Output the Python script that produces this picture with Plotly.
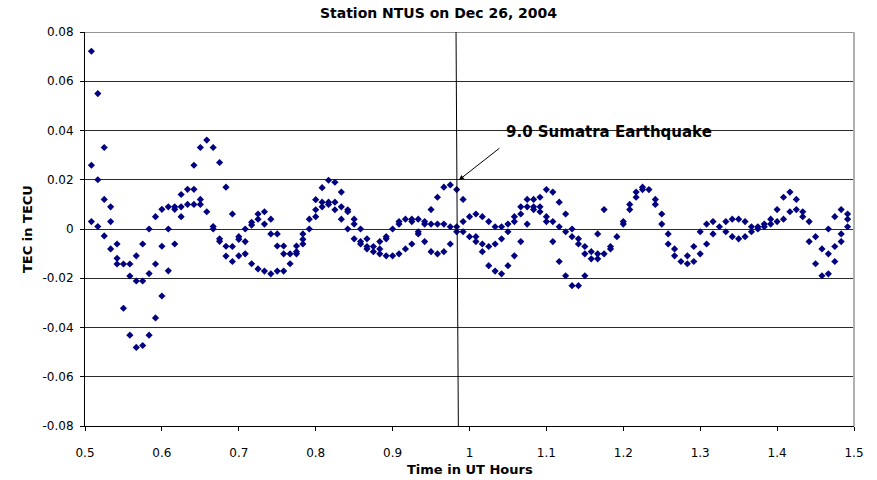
import plotly.graph_objects as go

# GPS epochs (minutes after 00:00 UT, 30 s sampling) and the TEC
# perturbations of all tracked satellites observed at each epoch.
epoch_minutes = [
    30.5, 31.0, 31.5, 32.0, 32.5, 33.0, 33.5, 34.0, 34.5, 35.0,
    35.5, 36.0, 36.5, 37.0, 37.5, 38.0, 38.5, 39.0, 39.5, 40.0,
    40.5, 41.0, 41.5, 42.0, 42.5, 43.0, 43.5, 44.0, 44.5, 45.0,
    45.5, 46.0, 46.5, 47.0, 47.5, 48.0, 48.5, 49.0, 49.5, 50.0,
    50.5, 51.0, 51.5, 52.0, 52.5, 53.0, 53.5, 54.0, 54.5, 55.0,
    55.5, 56.0, 56.5, 57.0, 57.5, 58.0, 58.5, 59.0, 59.5, 60.0,
    60.5, 61.0, 61.5, 62.0, 62.5, 63.0, 63.5, 64.0, 64.5, 65.0,
    65.5, 66.0, 66.5, 67.0, 67.5, 68.0, 68.5, 69.0, 69.5, 70.0,
    70.5, 71.0, 71.5, 72.0, 72.5, 73.0, 73.5, 74.0, 74.5, 75.0,
    75.5, 76.0, 76.5, 77.0, 77.5, 78.0, 78.5, 79.0, 79.5, 80.0,
    80.5, 81.0, 81.5, 82.0, 82.5, 83.0, 83.5, 84.0, 84.5, 85.0,
    85.5, 86.0, 86.5, 87.0, 87.5, 88.0, 88.5, 89.0, 89.5,
]

tec_by_epoch = [
    [0.0722, 0.0259, 0.0030], [0.0550, 0.0200, 0.0010], [0.0331, 0.0120, -0.0028],
    [0.0090, 0.0030, -0.0081], [-0.0061, -0.0119, -0.0142], [-0.0142, -0.0322],
    [-0.0142, -0.0191, -0.0431], [-0.0109, -0.0211, -0.0481], [-0.0061, -0.0211, -0.0473],
    [0.0000, -0.0181, -0.0431], [0.0050, -0.0142, -0.0361], [0.0080, -0.0070, -0.0272],
    [0.0090, 0.0000, -0.0170], [0.0090, 0.0080, -0.0061], [0.0140, 0.0090, 0.0050],
    [0.0161, 0.0100], [0.0259, 0.0161, 0.0100], [0.0331, 0.0120, 0.0100],
    [0.0361, 0.0070], [0.0331, 0.0010, 0.0000], [0.0270, -0.0040, -0.0050],
    [0.0170, -0.0070, -0.0110], [0.0061, -0.0071, -0.0132], [-0.0031, -0.0042, -0.0109],
    [0.0000, -0.0051, -0.0101], [0.0027, 0.0016, -0.0141], [0.0061, 0.0040, -0.0162],
    [0.0070, 0.0020, -0.0171], [0.0040, -0.0020, -0.0182], [-0.0020, -0.0069, -0.0171],
    [-0.0069, -0.0101, -0.0171], [-0.0101, -0.0141], [-0.0069, -0.0092, -0.0101],
    [-0.0020, -0.0042, -0.0061], [0.0040, 0.0000], [0.0119, 0.0078, 0.0050],
    [0.0168, 0.0109, 0.0090], [0.0198, 0.0109, 0.0100], [0.0190, 0.0109, 0.0078],
    [0.0150, 0.0090, 0.0040], [0.0078, 0.0070, 0.0000], [0.0040, 0.0020, -0.0040],
    [0.0000, -0.0051, -0.0061], [-0.0040, -0.0071, -0.0081], [-0.0071, -0.0092],
    [-0.0051, -0.0081, -0.0101], [-0.0031, -0.0040, -0.0109], [0.0000, -0.0109],
    [0.0030, 0.0020, -0.0101], [0.0040, -0.0081], [0.0040, 0.0030, -0.0061],
    [0.0040, -0.0011, -0.0020], [0.0030, 0.0020, -0.0051], [0.0079, 0.0020, -0.0092],
    [0.0129, 0.0020, -0.0101], [0.0170, 0.0020, -0.0092], [0.0179, 0.0009, -0.0061],
    [0.0160, 0.0009, -0.0011], [0.0120, 0.0030, -0.0011], [0.0050, -0.0031],
    [0.0061, -0.0031, -0.0051], [0.0050, -0.0061, -0.0092], [0.0030, -0.0071, -0.0149],
    [0.0009, -0.0061, -0.0171], [0.0009, -0.0040, -0.0182], [0.0020, -0.0011, -0.0149],
    [0.0050, 0.0030, -0.0109], [0.0090, 0.0061, -0.0051], [0.0120, 0.0090, 0.0020],
    [0.0120, 0.0090, 0.0079], [0.0129, 0.0090, 0.0070], [0.0160, 0.0050, 0.0030],
    [0.0150, 0.0030, -0.0051], [0.0109, 0.0009, -0.0132], [0.0061, -0.0011, -0.0190],
    [0.0000, -0.0031, -0.0230], [-0.0040, -0.0061, -0.0230], [-0.0071, -0.0101, -0.0190],
    [-0.0092, -0.0121], [-0.0020, -0.0101, -0.0121], [0.0079, -0.0101],
    [-0.0071, -0.0081], [-0.0031], [0.0030, 0.0020],
    [0.0100, 0.0079], [0.0150, 0.0129], [0.0170, 0.0160],
    [0.0160], [0.0120, 0.0100], [0.0061, 0.0020],
    [-0.0020, -0.0061], [-0.0081, -0.0109], [-0.0132],
    [-0.0109, -0.0141], [-0.0071, -0.0132], [-0.0011, -0.0101],
    [0.0020, -0.0061], [0.0030, -0.0020], [0.0009],
    [0.0030, -0.0011], [0.0040, -0.0031], [0.0040, -0.0040],
    [0.0030, -0.0031], [0.0009, -0.0011], [0.0009, 0.0000],
    [0.0020, 0.0009], [0.0040, 0.0020], [0.0079, 0.0030],
    [0.0129, 0.0040], [0.0150, 0.0070], [0.0120, 0.0079],
    [0.0070, 0.0050], [0.0030, -0.0051], [-0.0031, -0.0141],
    [-0.0081, -0.0190], [0.0000, -0.0101, -0.0182], [0.0050, -0.0071, -0.0132],
    [0.0079, -0.0020, -0.0051], [0.0061, 0.0040, 0.0009],
]

# Axis ticks and labels
x_ticks = [0.5, 0.6, 0.7, 0.8, 0.9, 1.0, 1.1, 1.2, 1.3, 1.4, 1.5]
x_labels = ["0.5", "0.6", "0.7", "0.8", "0.9", "1", "1.1", "1.2", "1.3", "1.4", "1.5"]
y_ticks = [-0.08, -0.06, -0.04, -0.02, 0.0, 0.02, 0.04, 0.06, 0.08]
y_labels = ["-0.08", "-0.06", "-0.04", "-0.02", "0", "0.02", "0.04", "0.06", "0.08"]

# Earthquake onset marker and its arrow target
quake_line = [(0.9825, 0.08), (0.9855, -0.08)]
quake_point = (0.9863, 0.0199)
quake_label_pos = (1.0449, 0.0393)

# Flatten the per-epoch lists into scatter points (time in hours)
times, tec = [], []
for minute, values in zip(epoch_minutes, tec_by_epoch):
    for v in values:
        times.append(minute / 60.0)
        tec.append(v)

FONT = "DejaVu Sans"

fig = go.Figure()
fig.add_trace(go.Scatter(
    x=times, y=tec, mode="markers",
    marker=dict(symbol="diamond", size=5.5, color="#000080", line=dict(width=0)),
    showlegend=False, hoverinfo="x+y",
))

fig.update_layout(
    width=877, height=480,
    margin=dict(l=85, r=23, t=32, b=54),
    paper_bgcolor="white", plot_bgcolor="white",
    font=dict(family=FONT, size=12, color="black"),
    title=dict(
        text="Station NTUS on Dec 26, 2004",
        font=dict(family=FONT, size=14, color="black", weight="bold"),
        x=0.5, xref="container", xanchor="center",
        y=1 - 13 / 480, yref="container", yanchor="middle",
    ),
    xaxis=dict(
        range=[0.5, 1.5], tickvals=x_ticks, ticktext=x_labels,
        showgrid=False, zeroline=False,
        showline=True, linecolor="black", linewidth=1,
        ticks="outside", ticklen=4, tickcolor="black",
        tickfont=dict(family=FONT, size=12),
        ticklabelstandoff=12,
    ),
    yaxis=dict(
        range=[-0.08, 0.08], tickvals=y_ticks, ticktext=y_labels,
        showgrid=True, gridcolor="#2a2a2a", gridwidth=1,
        zeroline=False,
        showline=True, linecolor="black", linewidth=1,
        ticks="outside", ticklen=4, tickcolor="black",
        tickfont=dict(family=FONT, size=12),
        ticklabelstandoff=4,
    ),
)

# Axis titles
fig.add_annotation(
    text="Time in UT Hours", xref="paper", yref="paper",
    x=0.5, y=-(469 - 426) / 394, xanchor="center", yanchor="middle",
    showarrow=False, font=dict(family=FONT, size=13, weight="bold"),
)
fig.add_annotation(
    text="TEC in TECU", xref="paper", yref="paper",
    x=-(85 - 27) / 769, y=0.5, xanchor="center", yanchor="middle",
    textangle=-90, showarrow=False, font=dict(family=FONT, size=13, weight="bold"),
)

# Top gridline and right border of the plot area
fig.add_shape(type="line", xref="paper", yref="y", x0=0, x1=1, y0=0.08, y1=0.08,
              line=dict(color="#2a2a2a", width=1))
fig.add_shape(type="line", xref="paper", yref="paper", x0=1, x1=1, y0=0, y1=1,
              line=dict(color="#b0b0b0", width=2))

# Earthquake onset line
fig.add_shape(type="line", xref="x", yref="y",
              x0=quake_line[0][0], y0=quake_line[0][1],
              x1=quake_line[1][0], y1=quake_line[1][1],
              line=dict(color="black", width=1))

# Label and arrow
fig.add_annotation(
    text="9.0 Sumatra Earthquake", x=quake_label_pos[0], y=quake_label_pos[1],
    xref="x", yref="y", xanchor="left", yanchor="middle", showarrow=False,
    font=dict(family=FONT, size=15, weight="bold", color="black"),
)
fig.add_annotation(
    text="", x=quake_point[0], y=quake_point[1], xref="x", yref="y",
    showarrow=True, ax=42, ay=-33, arrowhead=2, arrowsize=1, arrowwidth=1,
    arrowcolor="black",
)

fig.write_html("out.html")
